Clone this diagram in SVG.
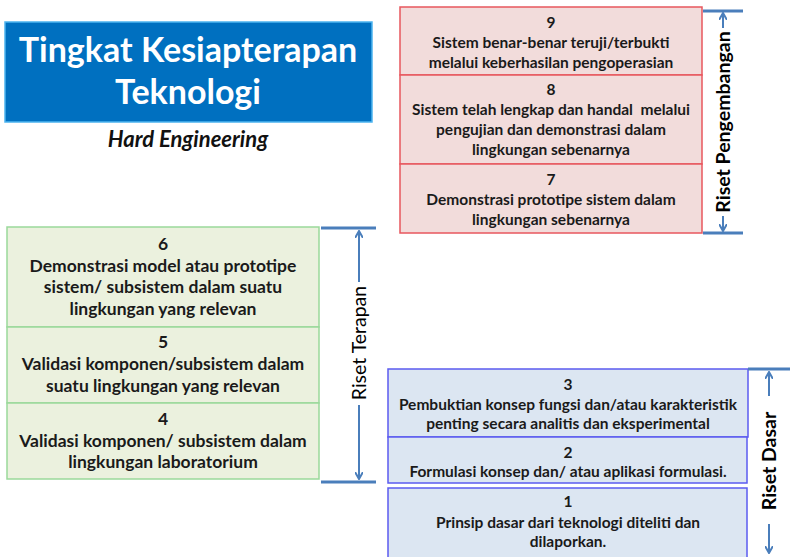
<svg xmlns="http://www.w3.org/2000/svg" width="790" height="557" viewBox="0 0 790 557">
<defs>
<marker id="ah" markerWidth="8" markerHeight="8" refX="7" refY="4" orient="auto" markerUnits="userSpaceOnUse">
<path d="M0,0 L7,4 L0,8" fill="none" stroke="#4a7ebb" stroke-width="2"/>
</marker>
</defs>
<style>
text{font-family:Lato,"Liberation Sans",sans-serif;font-weight:bold;fill:#1a1a1a;text-anchor:middle}
.red{fill:#f2dcdb;stroke:#e8575e;stroke-width:1.5}
.grn{fill:#ebf1de;stroke:#9ad99a;stroke-width:1.5}
.blu{fill:#dce6f2;stroke:#5b5bf0;stroke-width:1.5}
.r{font-size:15.5px}
.g{font-size:17.5px}
.b{font-size:15.5px}
.brk{stroke:#4a7ebb;stroke-width:3;fill:none}
.arr{stroke:#4a7ebb;stroke-width:2;fill:none;marker-end:url(#ah)}
.lab{font-size:19.5px;fill:#000}
</style>
<rect width="790" height="557" fill="#fff"/>
<g id="title">
<rect x="5" y="22" width="367" height="100" fill="#0070c0" stroke="#4cb4f0" stroke-width="1.5"/>
<text x="188" y="62" font-size="34" style="fill:#fff">Tingkat Kesiapterapan</text>
<text x="188" y="104" font-size="34" style="fill:#fff">Teknologi</text>
<text x="188" y="147" font-size="22" font-style="italic" style="fill:#111">Hard Engineering</text>
</g>
<g id="trl9">
<rect class="red" x="400" y="7" width="302" height="68"/>
<text class="r" x="551" y="28">9</text>
<text class="r" x="551" y="48">Sistem benar-benar teruji/terbukti</text>
<text class="r" x="551" y="68">melalui keberhasilan pengoperasian</text>
</g>
<g id="trl8">
<rect class="red" x="400" y="75" width="302" height="89"/>
<text class="r" x="551" y="95">8</text>
<text class="r" x="551" y="115" xml:space="preserve">Sistem telah lengkap dan handal  melalui</text>
<text class="r" x="551" y="135">pengujian dan demonstrasi dalam</text>
<text class="r" x="551" y="155">lingkungan sebenarnya</text>
</g>
<g id="trl7">
<rect class="red" x="400" y="164" width="302" height="69"/>
<text class="r" x="551" y="185">7</text>
<text class="r" x="551" y="205">Demonstrasi prototipe sistem dalam</text>
<text class="r" x="551" y="225">lingkungan sebenarnya</text>
</g>
<g id="trl6">
<rect class="grn" x="7" y="227" width="312" height="100"/>
<text class="g" x="163" y="250">6</text>
<text class="g" x="163" y="272">Demonstrasi model atau prototipe</text>
<text class="g" x="163" y="293">sistem/ subsistem dalam suatu</text>
<text class="g" x="163" y="315">lingkungan yang relevan</text>
</g>
<g id="trl5">
<rect class="grn" x="7" y="327" width="312" height="76"/>
<text class="g" x="163" y="348">5</text>
<text class="g" x="163" y="370">Validasi komponen/subsistem dalam</text>
<text class="g" x="163" y="392">suatu lingkungan yang relevan</text>
</g>
<g id="trl4">
<rect class="grn" x="7" y="403" width="312" height="76"/>
<text class="g" x="163" y="425">4</text>
<text class="g" x="163" y="447">Validasi komponen/ subsistem dalam</text>
<text class="g" x="163" y="468">lingkungan laboratorium</text>
</g>
<g id="trl3">
<rect class="blu" x="388" y="369" width="360" height="68"/>
<text class="b" x="568" y="390">3</text>
<text class="b" x="568" y="410">Pembuktian konsep fungsi dan/atau karakteristik</text>
<text class="b" x="568" y="429">penting secara analitis dan eksperimental</text>
</g>
<g id="trl2">
<rect class="blu" x="388" y="437" width="359" height="46"/>
<text class="b" x="568" y="458">2</text>
<text class="b" x="568" y="477">Formulasi konsep dan/ atau aplikasi formulasi.</text>
</g>
<g id="trl1">
<rect class="blu" x="388" y="488" width="359" height="75"/>
<text class="b" x="568" y="507">1</text>
<text class="b" x="568" y="528">Prinsip dasar dari teknologi diteliti dan</text>
<text class="b" x="568" y="547">dilaporkan.</text>
</g>
<g id="connectors">
<line class="brk" x1="703" y1="11" x2="743" y2="11"/>
<line class="brk" x1="703" y1="233" x2="743" y2="233"/>
<line class="arr" x1="723" y1="28" x2="723" y2="13"/>
<line class="arr" x1="723" y1="216" x2="723" y2="231"/>
<line class="brk" x1="321" y1="228" x2="376" y2="228"/>
<line class="brk" x1="321" y1="482" x2="376" y2="482"/>
<line class="arr" x1="359" y1="282" x2="359" y2="231"/>
<line class="arr" x1="359" y1="405" x2="359" y2="479"/>
<line class="brk" x1="748" y1="369" x2="790" y2="369"/>
<line class="arr" x1="769" y1="396" x2="769" y2="372"/>
<line class="arr" x1="769" y1="524" x2="769" y2="553"/>
</g>
<g id="labels">
<text class="lab" transform="translate(730,122) rotate(-90)">Riset Pengembangan</text>
<text class="lab" style="font-weight:normal" transform="translate(366,343) rotate(-90)">Riset Terapan</text>
<text class="lab" transform="translate(776,461) rotate(-90)">Riset Dasar</text>
</g>
</svg>
